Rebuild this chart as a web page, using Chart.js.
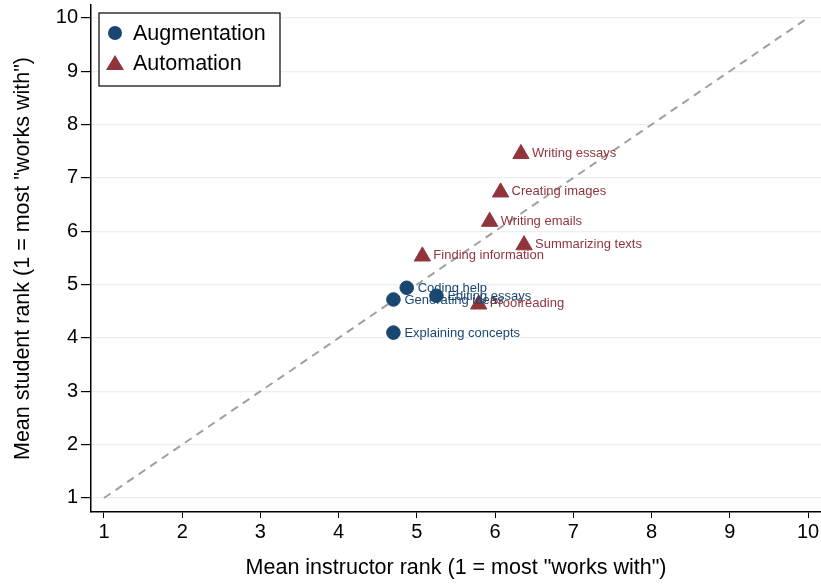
<!DOCTYPE html>
<html>
<head>
<meta charset="utf-8">
<script src="https://cdn.jsdelivr.net/npm/chart.js@4"></script>
<style>
  html, body { margin: 0; padding: 0; background: #fff; }
  #wrap { width: 821px; height: 584px; }
</style>
</head>
<body>
<div id="wrap"><canvas id="grafico"></canvas></div>
<script>
// Dados
const augLabels = ['Coding help', 'Generating ideas', 'Editing essays', 'Explaining concepts'];
const augInstructor = [4.87, 4.70, 5.25, 4.70];
const augStudent = [4.94, 4.72, 4.79, 4.10];

const autoLabels = ['Writing essays', 'Creating images', 'Writing emails', 'Summarizing texts', 'Finding information', 'Proofreading'];
const autoInstructor = [6.33, 6.07, 5.93, 6.37, 5.07, 5.79];
const autoStudent = [7.45, 6.73, 6.18, 5.74, 5.53, 4.63];

const tickValues = [1, 2, 3, 4, 5, 6, 7, 8, 9, 10];

const blue = '#1a476f';
const red = '#90353b';
const fontFamily = '"Liberation Sans", Arial, sans-serif';

const toPoints = (xs, ys) => xs.map((x, i) => ({ x: x, y: ys[i] }));

// Rotulos ao lado de cada marcador
const pointLabels = {
   id: 'pointLabels',
   afterDatasetsDraw(chart) {
      const ctx = chart.ctx;
      const groups = [
         { idx: 0, labels: augLabels, color: blue, dy: 1 },
         { idx: 1, labels: autoLabels, color: red, dy: -0.5 }
      ];
      ctx.save();
      ctx.font = '13px ' + fontFamily;
      ctx.textBaseline = 'middle';
      ctx.textAlign = 'left';
      groups.forEach(g => {
         const meta = chart.getDatasetMeta(g.idx);
         ctx.fillStyle = g.color;
         meta.data.forEach((pt, i) => {
            ctx.fillText(g.labels[i], pt.x + 11, pt.y + g.dy);
         });
      });
      ctx.restore();
   }
};

// Legenda dentro da area do grafico
const insideLegend = {
   id: 'insideLegend',
   afterDraw(chart) {
      const ctx = chart.ctx;
      const x0 = chart.chartArea.left + 8, y0 = chart.chartArea.top + 8;
      ctx.save();
      ctx.fillStyle = '#fff';
      ctx.fillRect(x0, y0, 181, 73);
      ctx.strokeStyle = '#000';
      ctx.lineWidth = 1.2;
      ctx.strokeRect(x0, y0, 181, 73);
      ctx.fillStyle = blue;
      ctx.beginPath();
      ctx.arc(x0 + 16, y0 + 20, 7, 0, Math.PI * 2);
      ctx.fill();
      ctx.fillStyle = red;
      ctx.beginPath();
      ctx.moveTo(x0 + 16, y0 + 42);
      ctx.lineTo(x0 + 25, y0 + 57);
      ctx.lineTo(x0 + 7, y0 + 57);
      ctx.closePath();
      ctx.fill();
      ctx.fillStyle = '#000';
      ctx.font = '21.5px ' + fontFamily;
      ctx.textBaseline = 'middle';
      ctx.fillText('Augmentation', x0 + 34, y0 + 21);
      ctx.fillText('Automation', x0 + 34, y0 + 51);
      ctx.restore();
   }
};

const ctx = document.getElementById('grafico').getContext('2d');
const chart = new Chart(ctx, {
   type: 'scatter',
   data: {
      datasets: [
         {
            label: 'Augmentation',
            data: toPoints(augInstructor, augStudent),
            backgroundColor: blue,
            borderColor: blue,
            pointStyle: 'circle',
            pointRadius: 6.8,
            pointHoverRadius: 6.8
         },
         {
            label: 'Automation',
            data: toPoints(autoInstructor, autoStudent),
            backgroundColor: red,
            borderColor: red,
            pointStyle: 'triangle',
            pointRadius: 9.4,
            pointHoverRadius: 9.4
         },
         {
            type: 'line',
            label: 'diagonal',
            data: [{ x: 1, y: 1 }, { x: 10, y: 10 }],
            borderColor: '#a0a0a0',
            borderWidth: 2,
            borderDash: [8, 6],
            pointRadius: 0,
            fill: false,
            order: 10
         }
      ]
   },
   options: {
      responsive: true,
      maintainAspectRatio: false,
      animation: false,
      layout: { autoPadding: false, padding: { top: 5, right: 0, left: 0, bottom: 0 } },
      plugins: {
         legend: { display: false },
         tooltip: { enabled: false }
      },
      scales: {
         x: {
            type: 'linear',
            min: 0.834,
            max: 10.166,
            afterBuildTicks: s => { s.ticks = tickValues.map(v => ({ value: v })); },
            afterFit: s => { s.height = 72; s.paddingLeft = 0; s.paddingRight = 0; },
            border: { color: '#000', width: 1.5 },
            grid: { color: 'transparent', tickColor: '#000', tickLength: 6, drawOnChartArea: false },
            ticks: { color: '#000', font: { family: fontFamily, size: 20 }, padding: 2, maxRotation: 0 },
            title: {
               display: true,
               text: 'Mean instructor rank (1 = most "works with")',
               color: '#000',
               font: { family: fontFamily, size: 21.5 },
               padding: { top: 4, bottom: 3 }
            }
         },
         y: {
            type: 'linear',
            min: 0.737,
            max: 10.24,
            afterBuildTicks: s => { s.ticks = tickValues.map(v => ({ value: v })); },
            afterFit: s => { s.width = 91; s.paddingTop = 0; s.paddingBottom = 0; },
            border: { color: '#000', width: 1.5 },
            grid: { color: '#e8f0f2', tickColor: '#000', tickLength: 10, lineWidth: 1.2 },
            ticks: { color: '#000', font: { family: fontFamily, size: 20 }, padding: 3 },
            title: {
               display: true,
               text: 'Mean student rank (1 = most "works with")',
               color: '#000',
               font: { family: fontFamily, size: 21.5 },
               padding: { top: 10, bottom: 4 }
            }
         }
      }
   },
   plugins: [pointLabels, insideLegend]
});
</script>
</body>
</html>
